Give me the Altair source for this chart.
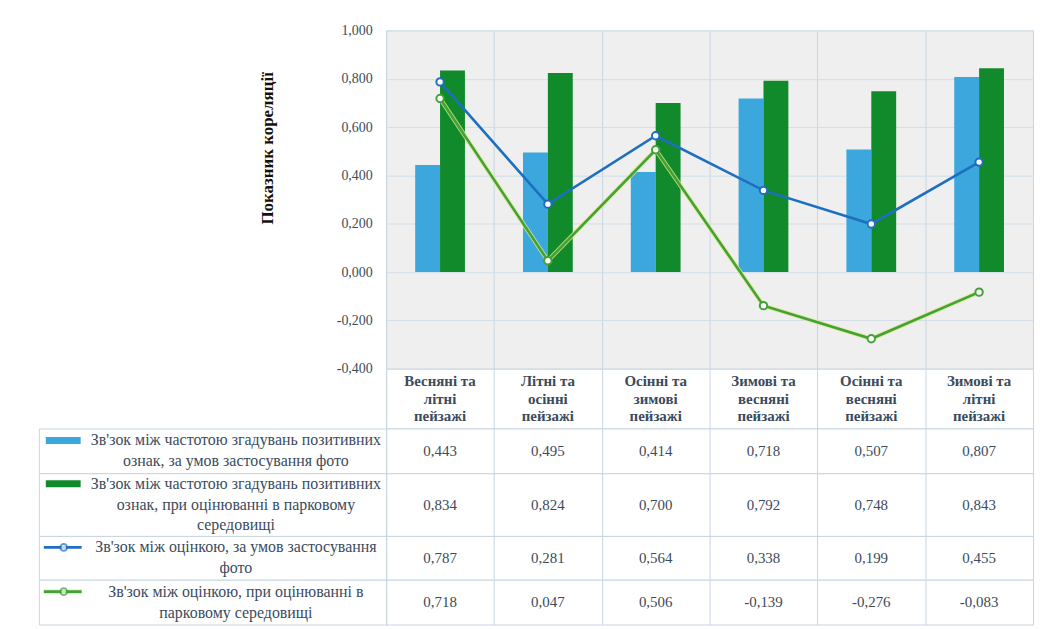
import altair as alt
import pandas as pd

# ---- data ----
categories = [
    "Весняні та\nлітні\nпейзажі",
    "Літні та\nосінні\nпейзажі",
    "Осінні та\nзимові\nпейзажі",
    "Зимові та\nвесняні\nпейзажі",
    "Осінні та\nвесняні\nпейзажі",
    "Зимові та\nлітні\nпейзажі",
]
series_labels = [
    "Зв'зок між частотою згадувань позитивних\nознак, за умов застосування фото",
    "Зв'зок між частотою згадувань позитивних\nознак, при оцінюванні в парковому\nсередовищі",
    "Зв'зок між оцінкою, за умов застосування\nфото",
    "Зв'зок між оцінкою, при оцінюванні в\nпарковому середовищі",
]
photo_freq = [0.443, 0.495, 0.414, 0.718, 0.507, 0.807]
park_freq = [0.834, 0.824, 0.700, 0.792, 0.748, 0.843]
photo_rating = [0.787, 0.281, 0.564, 0.338, 0.199, 0.455]
park_rating = [0.718, 0.047, 0.506, -0.139, -0.276, -0.083]
y_ticks = [-0.4, -0.2, 0.0, 0.2, 0.4, 0.6, 0.8, 1.0]

series_kinds = ["bar", "bar", "line", "line"]
series_colors = ["#3ba7dc", "#118a2b", "#1f6fc0", "#42a236"]

rows = []
for s, vals, kind in zip(series_labels, [photo_freq, park_freq, photo_rating, park_rating], series_kinds):
    for c, v in zip(categories, vals):
        rows.append({"series": s, "cat": c, "value": v, "kind": kind,
                     "label": f"{v:.3f}".replace(".", ",")})
df = pd.DataFrame(rows)

FONT = "Liberation Serif"
TEXT = "#3a4b5c"
GRID = "#d3dee8"
TGRID = "#c8d5e0"
LH = 21
HLH = 18
PLOT_W = 650

color_scale = alt.Scale(domain=series_labels, range=series_colors)
color_enc = alt.Color("series:N", scale=color_scale, legend=None)


def x_enc():
    return alt.X(
        "cat:N",
        scale=alt.Scale(domain=categories, paddingInner=0, paddingOuter=0),
        axis=alt.Axis(grid=True, tickBand="extent", gridColor=TGRID, labels=False,
                      ticks=False, domain=False, title=None),
    )


y_enc = alt.Y(
    "value:Q",
    scale=alt.Scale(domain=[-0.4, 1.0], nice=False),
    axis=alt.Axis(
        values=y_ticks,
        labelExpr="replace(replace(format(datum.value, '.3f'), '.', ','), '−', '-')",
        grid=True, gridColor=GRID, ticks=False, domain=False,
        labelFont=FONT, labelFontSize=14, labelColor=TEXT, labelPadding=14,
        title="Показник кореляції", titleFont=FONT, titleFontSize=17,
        titleFontWeight="bold", titleColor="#111111", titleX=-110, titleY=118,
    ),
)

step = PLOT_W / len(categories)
base = alt.Chart(df)
bars = base.transform_filter(alt.datum.kind == "bar").mark_bar().encode(
    x=x_enc(),
    xOffset=alt.XOffset("series:N", scale=alt.Scale(domain=series_labels[:2],
                                                    range=[step / 2 - 25, step / 2 + 25])),
    y=y_enc,
    color=color_enc,
)
halo = base.transform_filter(alt.datum.series == series_labels[3]).mark_line(
    strokeWidth=4.5, color="#dfe68a", opacity=0.8
).encode(x=x_enc(), y=y_enc)
lines = base.transform_filter(alt.datum.kind == "line").mark_line(
    strokeWidth=2.6,
    point=alt.OverlayMarkDef(filled=False, fill="white", size=55, strokeWidth=2),
).encode(x=x_enc(), y=y_enc, color=color_enc, detail="series:N")

plot = alt.layer(bars, halo, lines).properties(
    width=PLOT_W, height=340, view=alt.ViewBackground(fill="#efefef", stroke=GRID)
)

spacer = alt.Chart(pd.DataFrame({"v": []})).mark_text().encode(text="v:N").properties(
    width=349, height=340, view=alt.ViewBackground(stroke="transparent", fill="transparent")
)
blank = alt.Chart(pd.DataFrame({"v": []})).mark_text().encode(text="v:N").properties(
    width=349, height=60, view=alt.ViewBackground(stroke="transparent", fill="transparent")
)

header = alt.Chart(pd.DataFrame({"cat": categories})).mark_text(
    font=FONT, fontSize=15, fontWeight="bold", color=TEXT, lineBreak="\n",
    lineHeight=HLH, dy=-HLH
).encode(x=x_enc(), text="cat:N").properties(
    width=PLOT_W, height=60, view=alt.ViewBackground(fill="white", stroke=TGRID)
)

row_heights = [45, 63, 44, 45]


def legend_cell(i, h):
    sub = pd.DataFrame({"series": [series_labels[i]]})
    nlines = series_labels[i].count("\n") + 1
    off = -(nlines - 1) * LH / 2
    b = alt.Chart(sub)
    y = alt.Y("series:N", axis=None)
    layers = []
    if series_kinds[i] == "bar":
        layers.append(b.mark_rule(strokeWidth=7, yOffset=off).encode(
            x=alt.value(7), x2=alt.value(42), y=y, color=color_enc))
    else:
        if i == 3:
            layers.append(b.mark_rule(strokeWidth=4.5, yOffset=off, color="#dfe68a", opacity=0.8).encode(
                x=alt.value(5), x2=alt.value(43), y=y))
        layers.append(b.mark_rule(strokeWidth=2.6, yOffset=off).encode(
            x=alt.value(5), x2=alt.value(43), y=y, color=color_enc))
        layers.append(b.mark_point(filled=False, fill="white", size=45, strokeWidth=2, yOffset=off).encode(
            x=alt.value(25), y=y, color=color_enc))
    layers.append(b.mark_text(font=FONT, fontSize=16, color=TEXT, lineBreak="\n",
                              lineHeight=LH, align="center", dy=off).encode(
        x=alt.value(198), y=y, text="series:N"))
    return alt.layer(*layers).properties(
        width=349, height=h, view=alt.ViewBackground(fill="white", stroke=TGRID))


def value_cell(i, h):
    sub = df[df["series"] == series_labels[i]]
    return alt.Chart(sub).mark_text(font=FONT, fontSize=15, color=TEXT).encode(
        x=x_enc(), y=alt.Y("series:N", axis=None), text="label:N"
    ).properties(width=PLOT_W, height=h, view=alt.ViewBackground(fill="white", stroke=TGRID))


panels = [spacer, plot, blank, header]
for i, h in enumerate(row_heights):
    panels += [legend_cell(i, h), value_cell(i, h)]

chart = alt.concat(*panels, columns=2, spacing=0, bounds="flush").properties(
    padding={"left": 30, "top": 13, "right": 0, "bottom": 0}, background="white"
)

chart.save("out.html", embed_options={"renderer": "svg", "actions": False})
